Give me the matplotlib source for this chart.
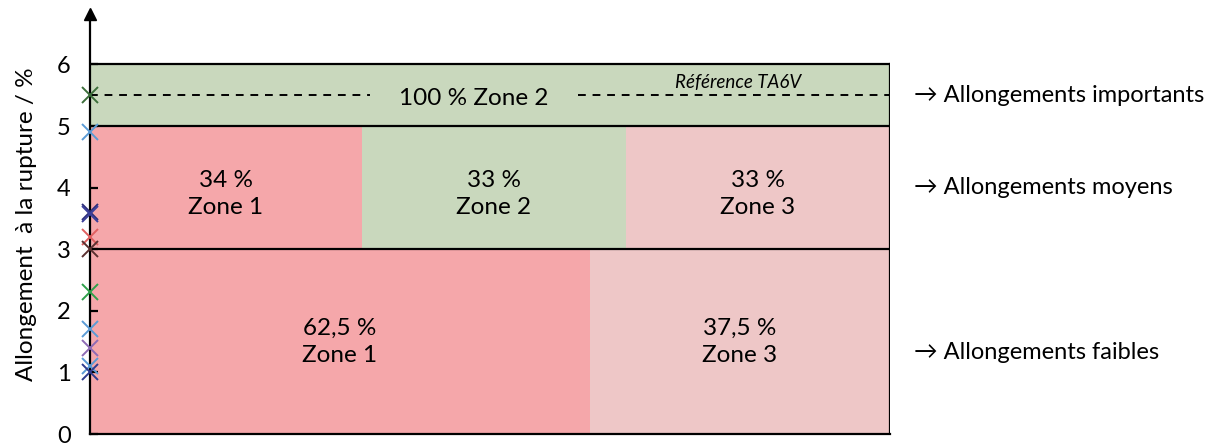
import matplotlib.pyplot as plt
from matplotlib.patches import Rectangle

plt.rcParams['font.family'] = ['Lato', 'DejaVu Sans']

# elongation bands (y range) and how each band splits into zones
bands = [(0, 3), (3, 5), (5, 6)]
band_zones = [["Zone 1", "Zone 3"], ["Zone 1", "Zone 2", "Zone 3"], ["Zone 2"]]
band_shares = [[62.5, 37.5], [34, 33, 33], [100]]
band_text_y = [1.5, 3.9, 5.45]
band_names = ["Allongements faibles", "Allongements moyens", "Allongements importants"]
name_y = [1.33, 4.0, 5.5]

# measured elongations plotted on the axis
pts_y = [5.5, 4.9, 3.6, 3.58, 3.2, 3.0, 2.3, 1.7, 1.4, 1.1, 1.0]
pts_col = ["#3c6e3a", "#5b9bd5", "#2e2f7a", "#3b3f9a", "#e06060", "#5a3030",
           "#2ea04a", "#5b9bd5", "#8e6bb5", "#5b9bd5", "#2e3b8f"]
ref_y = 5.5

zone_col = {"Zone 1": "#f5a7aa", "Zone 2": "#c9d8bd", "Zone 3": "#eec7c7"}

fig = plt.figure(figsize=(12.18, 4.48), dpi=100)
ax = fig.add_axes([90 / 1218, 14 / 448, 800 / 1218, 420 / 448])

for (y0, y1), zones, shares, ty in zip(bands, band_zones, band_shares, band_text_y):
    x = 0
    for z, s in zip(zones, shares):
        w = s / 100
        ax.add_patch(Rectangle((x, y0), w, y1 - y0, facecolor=zone_col[z], edgecolor="none"))
        if len(zones) > 1:
            ax.text(x + w / 2, ty, f"{s:g} %\n{z}".replace(".", ","), ha="center", va="center",
                    fontsize=17.5, linespacing=1.35)
        x += w

# band borders
for yy in [3, 5, 6]:
    ax.plot([0, 1], [yy, yy], color="black", lw=1.6)
ax.plot([1, 1], [0, 6], color="black", lw=1.6)

# reference line with a gap for the top label
ax.plot([0, 0.35], [ref_y, ref_y], color="black", ls=(0, (4, 3.5)), lw=1.4)
ax.plot([0.61, 1], [ref_y, ref_y], color="black", ls=(0, (4, 3.5)), lw=1.4)
ax.text(0.48, band_text_y[2], "100 % Zone 2", ha="center", va="center", fontsize=17.5)
ax.text(0.81, 5.7, "Référence TA6V", ha="center", va="center", fontsize=13.5, style="italic")

for yy, c in zip(pts_y, pts_col):
    ax.plot(0, yy, marker="x", ms=11, mew=1.4, color=c, clip_on=False, zorder=5)

for yy, nm in zip(name_y, band_names):
    ax.text(1.03, yy, "\u2192 " + nm, ha="left", va="center", fontsize=17,
            clip_on=False)

ax.set_xlim(0, 1)
ax.set_ylim(0, 6.82)
ax.set_yticks(range(7))
ax.tick_params(axis="y", direction="in", length=6, width=1.6, labelsize=17, pad=14)
ax.set_xticks([])
for s in ["top", "right"]:
    ax.spines[s].set_visible(False)
ax.spines["left"].set_linewidth(1.6)
ax.spines["bottom"].set_linewidth(1.6)
ax.plot(0, 1, marker="^", ms=8, color="black", transform=ax.transAxes, clip_on=False)
ax.set_ylabel("Allongement  à la rupture / %", fontsize=17.5, labelpad=14)

fig.savefig("out.png", dpi=100)
